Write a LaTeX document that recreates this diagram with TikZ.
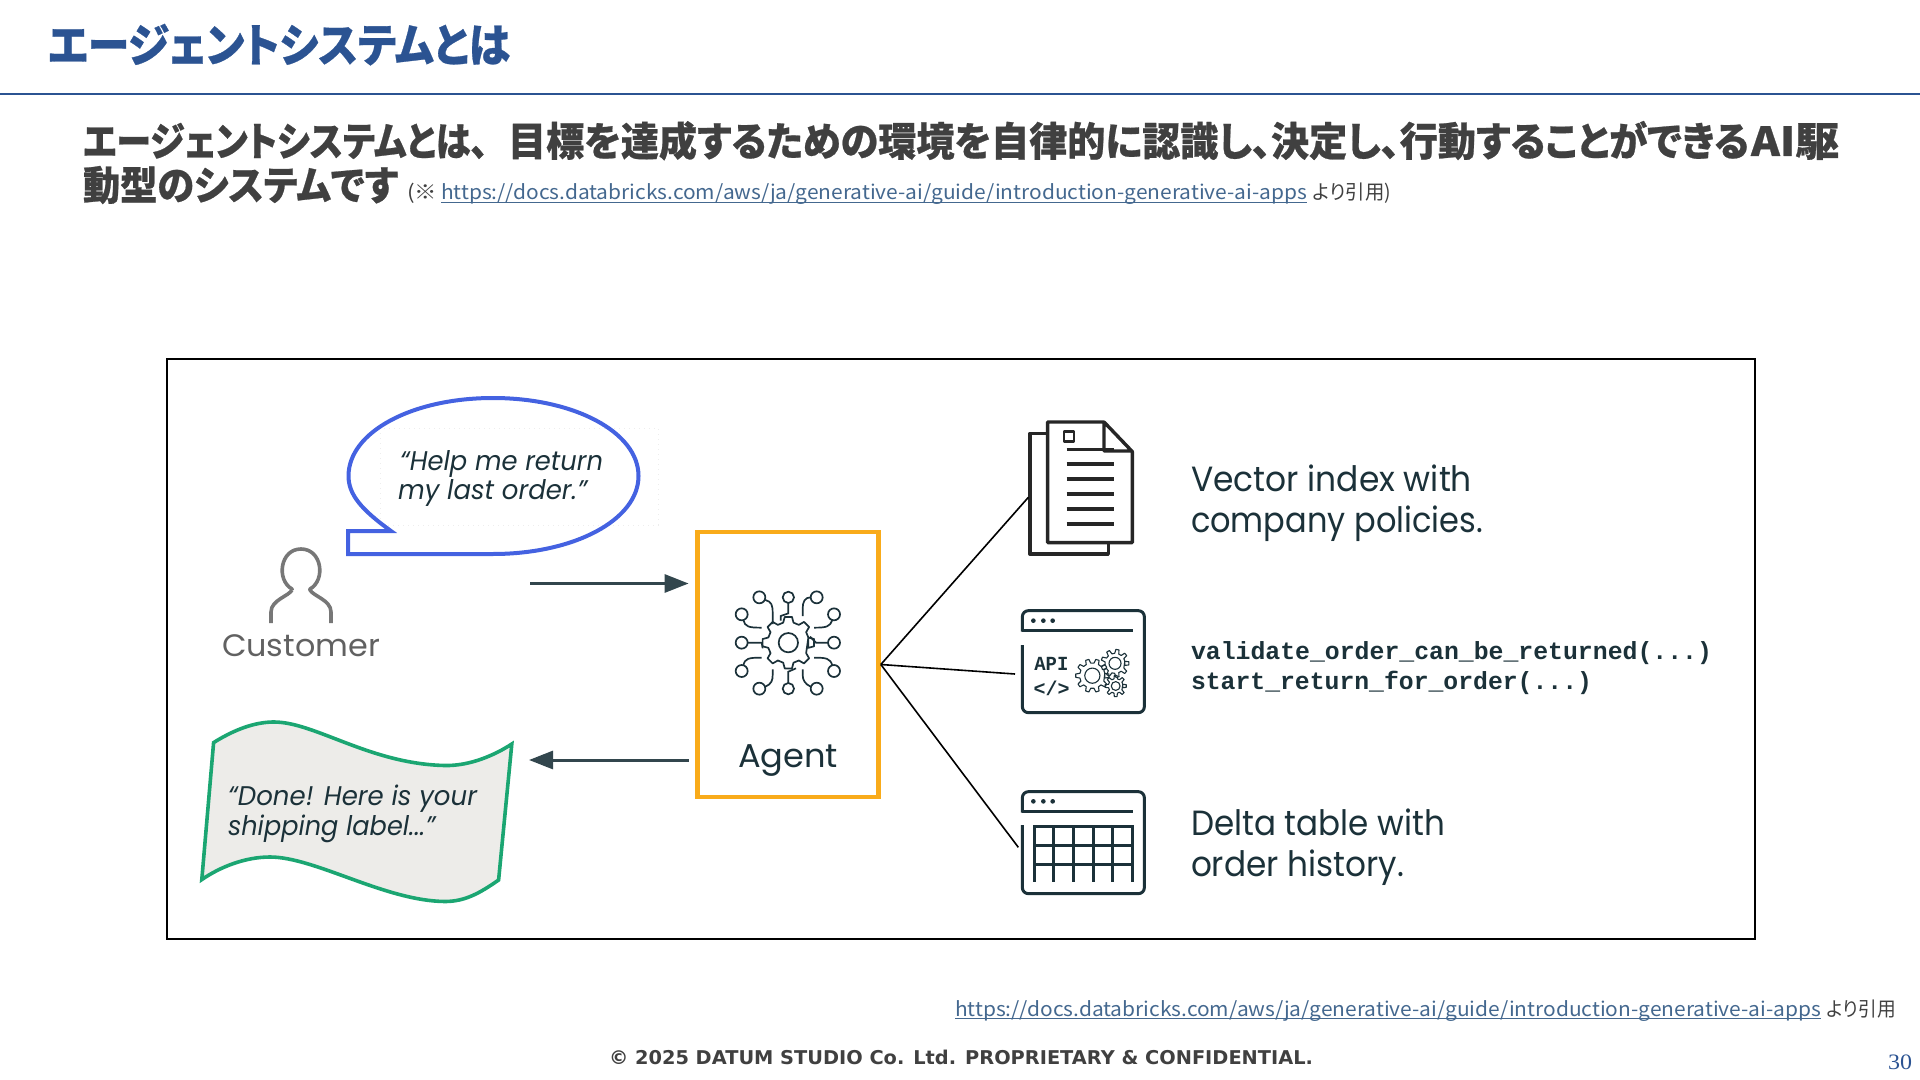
\documentclass[tikz,border=0pt]{standalone}
\usepackage{graphicx}
\usepackage{fontspec}
\usetikzlibrary{arrows.meta}
\setmainfont{Poppins}
\newfontfamily\jpfont{Noto Sans CJK JP}[RawFeature=+palt,BoldFeatures={FakeBold=0.6}]
\newfontfamily\monofnt{Liberation Mono}
\newfontfamily\dvfont{DejaVu Sans}
\newfontfamily\libfont{Liberation Serif}
\newcommand\fitx[2]{\resizebox{\dimexpr#1pt/2\relax}{\height}{#2}}
\newcommand\fsz[1]{\fontsize{#1pt}{#1pt}\selectfont}
\newcommand\lineunder[1]{\rule{0pt}{0.8em}\underline{\smash{#1}}}
\newcommand\gearicon[6]{\draw[#6] ({#1},{#2}) circle (#3*0.6);
 \begin{scope}[shift={(#1,#2)}]\draw[#6,line join=round] ({360-0.3*360/#5}:#3)
 \foreach \i [evaluate=\i as \a using \i*360/#5] in {1,...,#5}{
 -- ({\a-0.3*360/#5}:#3) -- ({\a-0.16*360/#5}:#4) -- ({\a+0.16*360/#5}:#4) -- ({\a+0.3*360/#5}:#3)} -- cycle;\end{scope}}
\definecolor{titleblue}{HTML}{2B5392}
\definecolor{subgray}{HTML}{404040}
\definecolor{linkblue}{HTML}{44688F}
\definecolor{navy}{HTML}{1B3139}
\definecolor{agentorange}{HTML}{F9AB1A}
\definecolor{bubbleblue}{HTML}{4462E1}
\definecolor{flaggreen}{HTML}{1BA672}
\definecolor{flagfill}{HTML}{EDECE9}
\definecolor{persongray}{HTML}{777777}
\tikzset{
 txt/.style={inner sep=0pt,outer sep=0pt,anchor=base west},
 navytxt/.style={txt,text=navy},
 linktxt/.style={txt,text=linkblue},
 iconline/.style={draw=navy,line width=0.85pt,line cap=butt},
 gearline/.style={draw=navy,line width=0.55pt},
 iconthick/.style={draw=navy,line width=1.5pt,line join=round},
 docline/.style={draw=black!85,line width=1.7pt,line join=round},
 flow/.style={draw=navy!90,line width=1.5pt,-{Triangle[length=12pt,width=9pt]}},
 spoke/.style={draw=black,line width=0.8pt},
}
\begin{document}
\begin{tikzpicture}[x=0.5pt,y=-0.5pt]
\useasboundingbox (0,0) rectangle (1920,1080);
% header
\node[txt,text=titleblue] (title) at (48,62) {\fitx{462}{\jpfont\bfseries\fsz{23}エージェントシステムとは}};
\coordinate (ruleL) at (0,94); \coordinate (ruleR) at (1920,94);
\draw[draw=titleblue,line width=1pt] (ruleL) -- (ruleR);
\node[txt,text=subgray] (sub1) at (83,156) {\fitx{405}{\jpfont\bfseries\fsz{20}エージェントシステムとは、}};
\node[txt,text=subgray] (sub1b) at (508,156) {\fitx{1241}{\jpfont\bfseries\fsz{20}目標を達成するための環境を自律的に認識し、決定し、行動することができる}};
\node[txt,text=subgray] (sub1c) at (1751,156) {\fitx{88}{\jpfont\bfseries\fsz{20}AI駆}};
\node[txt,text=subgray] (sub2) at (83,200) {\fitx{315}{\jpfont\bfseries\fsz{20}動型のシステムです}};
\node[txt,text=subgray] (paren) at (407,200) {\fitx{30}{\jpfont\fsz{10}(※}};
\node[linktxt] (link1) at (441,200) {\fitx{866}{\jpfont\fsz{10}\lineunder{https://docs.databricks.com/aws/ja/generative-ai/guide/introduction-generative-ai-apps}}};
\node[txt,text=subgray] (cite1) at (1313,200) {\fitx{78}{\jpfont\fsz{10}より引用)}};
% frame
\node[draw=black,line width=1pt,minimum width=794pt,minimum height=289.5pt,inner sep=0pt,anchor=north west] (frame) at (165.5,358.5) {};
% bubble
\path[draw=black!7,dotted,line width=0.5pt] (380,428) rectangle (658,525);
\coordinate (bubbleTail) at (391,531);
\draw[draw=bubbleblue,line width=2pt,line join=miter]
 (bubbleTail) .. controls (362,510) and (348.5,495) .. (348.5,476)
 .. controls (348.5,432) and (412,398) .. (493,398)
 .. controls (574,398) and (638.5,432) .. (638.5,476)
 .. controls (638.5,520) and (574,554) .. (493,554)
 -- (348,554) -- (348,531) -- cycle;
\node[navytxt] (q1) at (400,470) {\fitx{203}{\fsz{13.5}\itshape “Help me return}};
\node[navytxt] (q2) at (398,499) {\fitx{189}{\fsz{13.5}\itshape my last order.”}};
% person
\draw[draw=persongray,line width=1.8pt,line cap=butt,line join=round]
 (292,590) -- (292,589) .. controls (276,580) and (280,549) .. (301,549)
 .. controls (322,549) and (326,580) .. (310,589) -- (310,590)
 .. controls (313,596) and (331,600) .. (331,612) -- (331,623);
\draw[draw=persongray,line width=1.8pt,line cap=butt]
 (292,590) .. controls (289,596) and (271,600) .. (271,612) -- (271,623);
\node[txt,text=black!62] (customer) at (222,656) {\fitx{158}{\fsz{15.5}Customer}};
% flag
\draw[draw=flaggreen,fill=flagfill,line width=1.8pt,line join=miter]
 (213.6,742.6) .. controls (240,726) and (260,722) .. (274,722)
 .. controls (315,722) and (370,764) .. (445,765.5)
 .. controls (470,766) and (495,755) .. (511.8,744)
 -- (498.6,880) .. controls (480,893) and (465,901.5) .. (445,901.5)
 .. controls (385,901) and (315,857) .. (270,857)
 .. controls (245,857) and (220,867) .. (201.8,879.6) -- cycle;
\node[navytxt] (r1) at (228,805) {\fitx{249}{\fsz{13.5}\itshape “Done! Here is your}};
\node[navytxt] (r2) at (228,835) {\fitx{207}{\fsz{13.5}\itshape shipping label...”}};
% agent
\node[draw=agentorange,line width=2.3pt,minimum width=90.5pt,minimum height=132.5pt,inner sep=0pt] (agent) at (788,664.5) {};
\node[navytxt,anchor=base] (agentlabel) at (788,767) {\fitx{100}{\fsz{16.5}Agent}};
\coordinate (inStart) at (530,583.5); \coordinate (inEnd) at (688.6,583.5);
\coordinate (outStart) at (688.6,760); \coordinate (outEnd) at (529,760);
\draw[flow] (inStart) -- (inEnd);
\draw[flow] (outStart) -- (outEnd);
% zoom-coordinate icons
\begin{scope}[shift={(690,400)},x=0.16667pt,y=-0.16667pt]
 % agent icon
 \foreach \cx/\cy/\rr in {208/592/18,295/592/17,380/592/18,155/643/18,155/728/18,155/813/18,432/643/18,432/728/18,432/813/18,208/866/18,295/866/17,380/866/18}{\draw[iconline] (\cx,\cy) circle (\rr);}
 \draw[iconline] (295,728) circle (29);
 \begin{scope}[shift={(295,728)}]
 \draw[iconline,line join=round] (-14.5:62)
  \foreach \i [evaluate=\i as \a using \i*45] in {1,...,8}{
  -- ({\a-22.5+8}:62) -- ({\a-8}:78) -- ({\a+8}:78) -- ({\a+22.5-8}:62)} -- cycle;
 \end{scope}
 \draw[iconline] (226,600) .. controls (245,605) and (248,615) .. (248,640) -- (248,672);
 \draw[iconline] (295,609) -- (295,640) -- (272,648) -- (272,662);
 \draw[iconline] (362,592) .. controls (345,592) and (338,605) .. (338,625) -- (338,648);
 \draw[iconline] (160,660) .. controls (165,680) and (175,683) .. (215,683);
 \draw[iconline] (173,728) -- (215,728) -- (218,745);
 \draw[iconline] (160,796) .. controls (165,775) and (175,773) .. (215,773);
 \draw[iconline] (427,660) .. controls (420,680) and (410,683) .. (372,683);
 \draw[iconline] (414,728) -- (378,728) -- (360,710);
 \draw[iconline] (427,796) .. controls (420,775) and (410,773) .. (372,773);
 \draw[iconline] (226,860) .. controls (245,852) and (248,840) .. (248,825) -- (248,808);
 \draw[iconline] (295,849) -- (295,815) -- (318,805);
 \draw[iconline] (362,860) .. controls (345,852) and (338,840) .. (338,825) -- (338,808);
 % doc icon
 \draw[docline] (1073,100) -- (1020,100) -- (1020,462) -- (1255,462) -- (1255,428);
 \draw[docline] (1242,66) -- (1073,66) -- (1073,428) -- (1327,428) -- (1327,155) -- (1242,66) -- (1242,153) -- (1327,153);
 \draw[docline,line width=1.3pt] (1122,95) rectangle (1152,125);
 \foreach \yy in {148,192,237,282,327,372}{\draw[docline,line width=1.6pt] (1130,\yy) -- (1272,\yy);}
 \coordinate (docPort) at (1015,292);
 % API icon
 \draw[iconthick,rounded corners=3pt] (997,735) -- (997,938) -- (1363,938) -- (1363,632) -- (997,632) -- (997,695);
 \draw[iconthick] (997,691) -- (1330,691);
 \foreach \xx in {1030,1060,1088}{\fill[navy] (\xx,662) circle (7);}
 \node[inner sep=0pt,text=navy] (apitxt) at (1084,791) {\monofnt\bfseries\fsz{10}\fitx{34}{API}};
 \node[inner sep=0pt,text=navy] (codetxt) at (1085,865) {\monofnt\bfseries\fsz{10}\fitx{36}{</>}};
 \gearicon{1207}{827}{38}{50}{10}{gearline}
 \gearicon{1275}{790}{30}{42}{9}{gearline}
 \gearicon{1277}{858}{22}{32}{8}{gearline}
 \coordinate (apiPort) at (975,822);
 % table icon
 \draw[iconthick,rounded corners=3pt] (997,1275) -- (997,1481) -- (1363,1481) -- (1363,1175) -- (997,1175) -- (997,1238);
 \draw[iconthick] (997,1234) -- (1330,1234);
 \foreach \xx in {1030,1060,1088}{\fill[navy] (\xx,1204) circle (7);}
 \draw[iconthick] (1030,1280) -- (1332,1280);
 \draw[iconthick] (1030,1335) -- (1332,1335);
 \draw[iconthick] (1030,1392) -- (1332,1392);
 \foreach \xx in {1032,1090,1150,1210,1268,1328}{\draw[iconthick] (\xx,1280) -- (\xx,1446);}
 \coordinate (tablePort) at (985,1342);
\end{scope}
\draw[spoke] (agent.east) -- (docPort);
\draw[spoke] (agent.east) -- (apiPort);
\draw[spoke] (agent.east) -- (tablePort);
% right texts
\node[navytxt] (t1) at (1191,491) {\fitx{281}{\fsz{17.5}Vector index with}};
\node[navytxt] (t2) at (1191,532) {\fitx{292}{\fsz{17.5}company policies.}};
\node[navytxt] (c1) at (1191,659) {\fitx{521}{\monofnt\bfseries\fsz{12.4}validate\_order\_can\_be\_returned(...)}};
\node[navytxt] (c2) at (1191,689) {\fitx{401}{\monofnt\bfseries\fsz{12.4}start\_return\_for\_order(...)}};
\node[navytxt] (t3) at (1191,835) {\fitx{254}{\fsz{17.5}Delta table with}};
\node[navytxt] (t4) at (1191,876) {\fitx{213}{\fsz{17.5}order history.}};
% footer
\node[linktxt] (link2) at (955,1016) {\fitx{866}{\jpfont\fsz{10}\lineunder{https://docs.databricks.com/aws/ja/generative-ai/guide/introduction-generative-ai-apps}}};
\node[txt,text=subgray] (cite2) at (1827,1016) {\fitx{69}{\jpfont\fsz{10}より引用}};
\node[txt,text=subgray] (copy) at (609,1064) {\fitx{704}{\dvfont\bfseries\fsz{9.5}© 2025 DATUM STUDIO Co. Ltd. PROPRIETARY \& CONFIDENTIAL.}};
\node[txt,text=titleblue] (page) at (1888,1069) {\fitx{24}{\libfont\fsz{11}30}};
\end{tikzpicture}
\end{document}
